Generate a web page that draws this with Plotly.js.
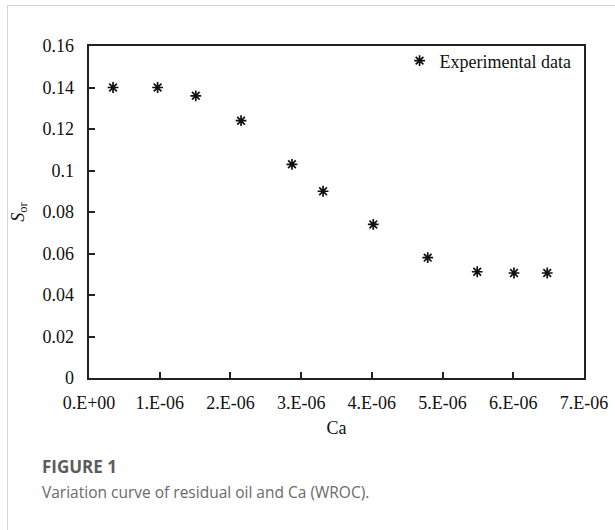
<!DOCTYPE html>
<html>
<head>
<meta charset="utf-8">
<script src="https://cdn.plot.ly/plotly-3.0.1.min.js"></script>
<style>
  html, body { margin: 0; padding: 0; background: #fff; }
  #wrap { position: relative; width: 615px; height: 530px; overflow: hidden; }
  #chart { position: absolute; left: 0; top: 0; width: 615px; height: 530px; }
  #frame { position: absolute; left: 7px; top: 5px; width: 640px; height: 560px;
           border-left: 1px solid #d4d4d4; border-top: 1px solid #d4d4d4; pointer-events: none; }
</style>
</head>
<body>
<div id="wrap">
  <div id="chart"></div>
  <div id="frame"></div>
</div>
<script>
// Data
const ca = [0.34e-6, 0.97e-6, 1.51e-6, 2.15e-6, 2.87e-6, 3.31e-6, 4.02e-6, 4.79e-6, 5.49e-6, 6.01e-6, 6.48e-6];
const sor = [0.140, 0.140, 0.136, 0.124, 0.103, 0.090, 0.074, 0.058, 0.0512, 0.0506, 0.0506];
const xTickVals = [0, 1e-6, 2e-6, 3e-6, 4e-6, 5e-6, 6e-6, 7e-6];
const xTickText = ['0.E+00', '1.E-06', '2.E-06', '3.E-06', '4.E-06', '5.E-06', '6.E-06', '7.E-06'];
const yTickVals = [0, 0.02, 0.04, 0.06, 0.08, 0.1, 0.12, 0.14, 0.16];
const yTickText = ['0', '0.02', '0.04', '0.06', '0.08', '0.1', '0.12', '0.14', '0.16'];
const xRange = [0, 7e-6];
const yRange = [0, 0.16];
const seriesName = 'Experimental data';
const figLabel = 'FIGURE 1';
const caption = 'Variation curve of residual oil and Ca (WROC).';

const serif = '"Liberation Serif", "Times New Roman", serif';
const tickFont = { family: serif, size: 18, color: '#111' };

const traces = [
  {
    x: ca, y: sor, type: 'scatter', mode: 'markers', name: seriesName,
    marker: { symbol: 'asterisk-open', size: 9, color: '#111', line: { color: '#111', width: 1.7 } }
  },
  { // same data on the label axes (invisible) so those axes get drawn
    x: ca, y: sor, type: 'scatter', mode: 'markers', xaxis: 'x2', yaxis: 'y2',
    showlegend: false, hoverinfo: 'skip', marker: { opacity: 0 }
  }
];

// main axes: frame + inside ticks, no labels
const xa = {
  range: xRange, tickmode: 'array', tickvals: xTickVals,
  showline: true, mirror: true, linecolor: '#222', linewidth: 1.5,
  ticks: 'inside', ticklen: 6, tickwidth: 1.5, tickcolor: '#222',
  showticklabels: false, showgrid: false, zeroline: false
};
const ya = {
  range: yRange, tickmode: 'array', tickvals: yTickVals,
  showline: true, mirror: true, linecolor: '#222', linewidth: 1.5,
  ticks: 'inside', ticklen: 6, tickwidth: 1.5, tickcolor: '#222',
  showticklabels: false, showgrid: false, zeroline: false
};
// overlay axes: tick labels and titles
const xa2 = {
  overlaying: 'x', anchor: 'y2', side: 'bottom',
  range: xRange, tickmode: 'array', tickvals: xTickVals, ticktext: xTickText,
  showline: false, ticks: '', showgrid: false, zeroline: false,
  tickfont: tickFont, ticklabelstandoff: 12,
  title: { text: 'Ca', font: { family: serif, size: 18, color: '#111' }, standoff: 9 }
};
const ya2 = {
  overlaying: 'y', anchor: 'x2', side: 'left',
  range: yRange, tickmode: 'array', tickvals: yTickVals, ticktext: yTickText,
  showline: false, ticks: '', showgrid: false, zeroline: false,
  tickfont: tickFont, ticklabelstandoff: 14,
  title: { text: '<i>S</i><sub>or</sub>', font: { family: serif, size: 18, color: '#111' }, standoff: 13 }
};

const layout = {
  width: 615, height: 530,
  margin: { l: 89, r: 31, t: 46, b: 152 },
  paper_bgcolor: '#fff', plot_bgcolor: '#fff',
  showlegend: true,
  legend: {
    x: 0.985, xanchor: 'right', y: 0.955, yanchor: 'middle',
    bgcolor: 'rgba(0,0,0,0)', font: { family: serif, size: 18, color: '#111' },
    itemwidth: 30
  },
  xaxis: xa, yaxis: ya, xaxis2: xa2, yaxis2: ya2,
  annotations: [
    { xref: 'paper', yref: 'paper', x: -0.099, xanchor: 'left', y: -0.268, yanchor: 'middle',
      text: '<b>' + figLabel + '</b>', showarrow: false,
      font: { family: '"Open Sans", "Noto Sans", sans-serif', size: 17, color: '#5c5c5c' } },
    { xref: 'paper', yref: 'paper', x: -0.099, xanchor: 'left', y: -0.342, yanchor: 'middle',
      text: caption, showarrow: false,
      font: { family: '"Open Sans", "Noto Sans", sans-serif', size: 15.5, color: '#6a6a6a' } }
  ]
};

Plotly.newPlot('chart', traces, layout, { displayModeBar: false });
</script>
</body>
</html>
